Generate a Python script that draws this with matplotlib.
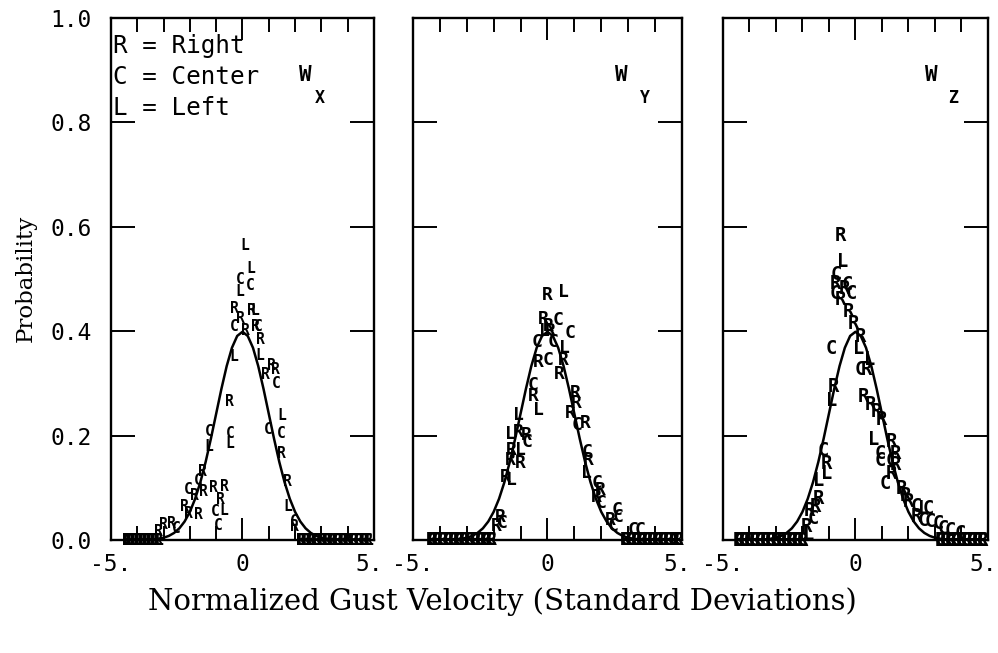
import matplotlib.pyplot as plt
import matplotlib.transforms as mtransforms

plt.rcParams['font.family'] = 'DejaVu Sans Mono'

# theoretical normal curve, every 0.2 std dev
gauss_x = [-4.0, -3.8, -3.6, -3.4, -3.2, -3.0, -2.8, -2.6, -2.4, -2.2, -2.0,
           -1.8, -1.6, -1.4, -1.2, -1.0, -0.8, -0.6, -0.4, -0.2, 0.0,
           0.2, 0.4, 0.6, 0.8, 1.0, 1.2, 1.4, 1.6, 1.8, 2.0,
           2.2, 2.4, 2.6, 2.8, 3.0, 3.2, 3.4, 3.6, 3.8, 4.0]
gauss_y = [0.0001, 0.0003, 0.0006, 0.0012, 0.0024, 0.0044, 0.0079, 0.0136, 0.0224, 0.0355, 0.0540,
           0.0790, 0.1109, 0.1497, 0.1942, 0.2420, 0.2897, 0.3332, 0.3683, 0.3910, 0.3989,
           0.3910, 0.3683, 0.3332, 0.2897, 0.2420, 0.1942, 0.1497, 0.1109, 0.0790, 0.0540,
           0.0355, 0.0224, 0.0136, 0.0079, 0.0044, 0.0024, 0.0012, 0.0006, 0.0003, 0.0001]

# W_x measured points (R = right, C = center, L = left)
wx_sym = list("LLCCLRRLRCRRCRLLRRRCRLCCRCLCLRLCRRCRRRCRRCLRRRCRRCR")
wx_x = [0.10, 0.31, -0.07, 0.29, -0.12, -0.31, 0.35, 0.45, -0.07, -0.32, 0.10, 0.50, 0.60,
        0.70, 0.64, -0.35, 1.11, 0.89, 1.24, 1.30, -0.48, 1.49, 0.98, 1.49, 1.49, -1.26,
        -1.30, -0.48, -0.48, 1.71, 1.71, 1.97, 1.99, -1.51, -1.68, -1.49, -1.11, -0.70,
        -2.06, -1.81, -0.83, -1.05, -0.73, -1.68, -2.19, -2.06, -0.92, -3.01, -2.69, -2.50, -3.20]
wx_y = [0.565, 0.520, 0.500, 0.487, 0.477, 0.444, 0.440, 0.440, 0.425, 0.409, 0.402, 0.410, 0.410,
        0.385, 0.354, 0.351, 0.335, 0.318, 0.327, 0.300, 0.265, 0.239, 0.211, 0.204, 0.166, 0.207,
        0.179, 0.204, 0.185, 0.112, 0.064, 0.035, 0.026, 0.131, 0.115, 0.093, 0.100, 0.103,
        0.097, 0.086, 0.077, 0.054, 0.057, 0.048, 0.065, 0.051, 0.027, 0.029, 0.032, 0.022, 0.016]
wx_zero_x = [-4.4, -4.25, -4.1, -3.95, -3.8, -3.65, -3.5, -3.35, -3.2,
             2.2, 2.4, 2.6, 2.8, 3.0, 3.2, 3.4, 3.6, 3.8, 4.0, 4.2, 4.4, 4.6, 4.8]

# W_y measured points
wy_sym = list("RLRCRLRCCCLRCRRCRLRRRCRLLRRRLCCRRRLRCRRLCRRCCCRCCC")
wy_x = [-0.01, 0.61, -0.16, 0.40, 0.05, -0.10, 0.10, 0.84, -0.40, 0.22, 0.65, -0.34, 0.03,
        0.59, 0.44, -0.55, -0.53, -0.34, 1.02, 1.09, 0.84, 1.09, 1.39, -1.09, -1.39, -1.09,
        -0.77, -1.33, -1.00, -0.77, 1.46, -1.39, -1.02, -1.58, -1.33, -1.77, -1.70, -1.89,
        1.52, 1.46, 1.83, 1.95, 1.83, 2.01, 2.57, 2.63, 2.32, 2.45, 3.19, 3.44]
wy_y = [0.469, 0.476, 0.423, 0.421, 0.410, 0.400, 0.400, 0.396, 0.380, 0.380, 0.367, 0.342, 0.345,
        0.345, 0.319, 0.297, 0.275, 0.249, 0.281, 0.262, 0.243, 0.220, 0.224, 0.239, 0.204, 0.207,
        0.201, 0.172, 0.172, 0.188, 0.169, 0.153, 0.147, 0.121, 0.115, 0.045, 0.032, 0.026,
        0.153, 0.128, 0.109, 0.096, 0.083, 0.070, 0.057, 0.045, 0.038, 0.026, 0.019, 0.019]
wy_zero_x = [-4.3, -4.1, -3.9, -3.7, -3.5, -3.3, -3.1, -2.9, -2.7, -2.5, -2.3, -2.1,
             2.9, 3.1, 3.3, 3.5, 3.7, 3.9, 4.1, 4.3, 4.5, 4.7, 4.85]

# W_z measured points
wz_sym = list("RLCRCCRCRRRRCLLCRRLRRRRLRCRCRLLRRRCRLCCRCRRRRCLCRCCCCCC")
wz_x = [-0.58, -0.48, -0.71, -0.77, -0.77, -0.14, -0.40, -0.30, -0.58, -0.27, -0.08, 0.17,
        -0.90, 0.11, 0.55, 0.17, 0.42, -0.84, -0.90, 0.30, 0.55, 0.80, 0.99, 0.67, 1.37,
        0.92, 1.49, -1.22, -1.09, -1.09, -1.40, -1.40, -1.72, -1.53, -1.59, -1.84, -1.78,
        0.92, 1.37, 1.49, 1.11, 1.37, 1.74, 1.87, 1.99, 2.31, 2.56, 2.75, 2.31, 2.56,
        2.81, 3.12, 3.31, 3.57, 3.94, 4.32]
wz_y = [0.584, 0.533, 0.508, 0.492, 0.473, 0.473, 0.482, 0.490, 0.460, 0.437, 0.415, 0.389,
        0.367, 0.367, 0.345, 0.326, 0.326, 0.294, 0.268, 0.275, 0.259, 0.246, 0.230, 0.192, 0.188,
        0.166, 0.166, 0.172, 0.147, 0.128, 0.115, 0.080, 0.057, 0.064, 0.042, 0.026, 0.010,
        0.153, 0.153, 0.144, 0.109, 0.128, 0.099, 0.086, 0.073, 0.064, 0.061, 0.061, 0.045, 0.038,
        0.035, 0.032, 0.022, 0.019, 0.013, 0.010]
wz_zero_x = [-4.4, -4.2, -4.0, -3.8, -3.6, -3.4, -3.2, -3.0, -2.8, -2.6, -2.4, -2.2, -2.0,
             3.2, 3.4, 3.6, 3.8, 4.0, 4.2, 4.4, 4.6, 4.8]

panels = [
    (wx_sym, wx_x, wx_y, wx_zero_x, 'X', 10.5),
    (wy_sym, wy_x, wy_y, wy_zero_x, 'Y', 13),
    (wz_sym, wz_x, wz_y, wz_zero_x, 'Z', 13.5),
]
boxes = [[0.1112, 0.173, 0.2635, 0.7994],
         [0.4138, 0.173, 0.2695, 0.7994],
         [0.7244, 0.173, 0.2655, 0.7994]]
w_pos = [(0.738, 0.795), (0.773, 0.862), (0.785, 0.868)]

fig = plt.figure(figsize=(9.98, 6.53), dpi=100)
shift_left = mtransforms.ScaledTranslation(-5 / 100, 0, fig.dpi_scale_trans)

for i, (sym, xs, ys, zx, sub, fs) in enumerate(panels):
    ax = fig.add_axes(boxes[i])
    ax.plot(gauss_x, gauss_y, color='black', lw=1.8, zorder=2)
    for s, x, y in zip(sym, xs, ys):
        ax.text(x, y, s, ha='center', va='center', fontsize=fs, fontweight='bold', zorder=3)
    for x in zx:
        for s in 'RCL':
            ax.text(x, 0.0, s, ha='center', va='center', fontsize=fs, fontweight='bold',
                    zorder=3)

    ax.set_xlim(-5, 5)
    ax.set_ylim(0, 1)
    ax.set_xticks([-5, 0, 5])
    ax.set_xticklabels(['-5.', '0', '5.'])
    ax.set_xticks([-4, -3, -2, -1, 1, 2, 3, 4], minor=True)
    ax.set_yticks([0.0, 0.2, 0.4, 0.6, 0.8, 1.0])
    ax.set_yticklabels(['0.0', '0.2', '0.4', '0.6', '0.8', '1.0'])
    ax.tick_params(axis='x', which='major', direction='in', length=16, width=1.4,
                   top=True, labelsize=16.5, pad=9)
    ax.tick_params(axis='x', which='minor', direction='in', length=10, width=1.4, top=True)
    ax.tick_params(axis='y', direction='in', length=17, width=1.4, right=True,
                   labelsize=16.5, pad=14, labelleft=(i == 0))
    lbl = ax.get_xticklabels()[2]
    lbl.set_transform(lbl.get_transform() + shift_left)
    for sp in ax.spines.values():
        sp.set_linewidth(1.7)

    ax.text(w_pos[i][0], 0.891, 'W', transform=ax.transAxes, ha='center', va='center',
            fontsize=15, fontweight='bold')
    ax.text(w_pos[i][1], 0.847, sub, transform=ax.transAxes, ha='center', va='center',
            fontsize=12, fontweight='bold')

    if i == 0:
        for j, line in enumerate(['R = Right', 'C = Center', 'L = Left']):
            ax.text(0.008, 0.946 - j * 0.059, line, transform=ax.transAxes,
                    ha='left', va='center', fontsize=17.5)

fig.text(0.503, 0.078, 'Normalized Gust Velocity (Standard Deviations)',
         ha='center', va='center', family='DejaVu Serif', fontsize=21)
fig.text(0.026, 0.573, 'Probability', rotation=90, ha='center', va='center',
         family='DejaVu Serif', fontsize=16.5)

fig.savefig('out.png', dpi=100, facecolor='white')
